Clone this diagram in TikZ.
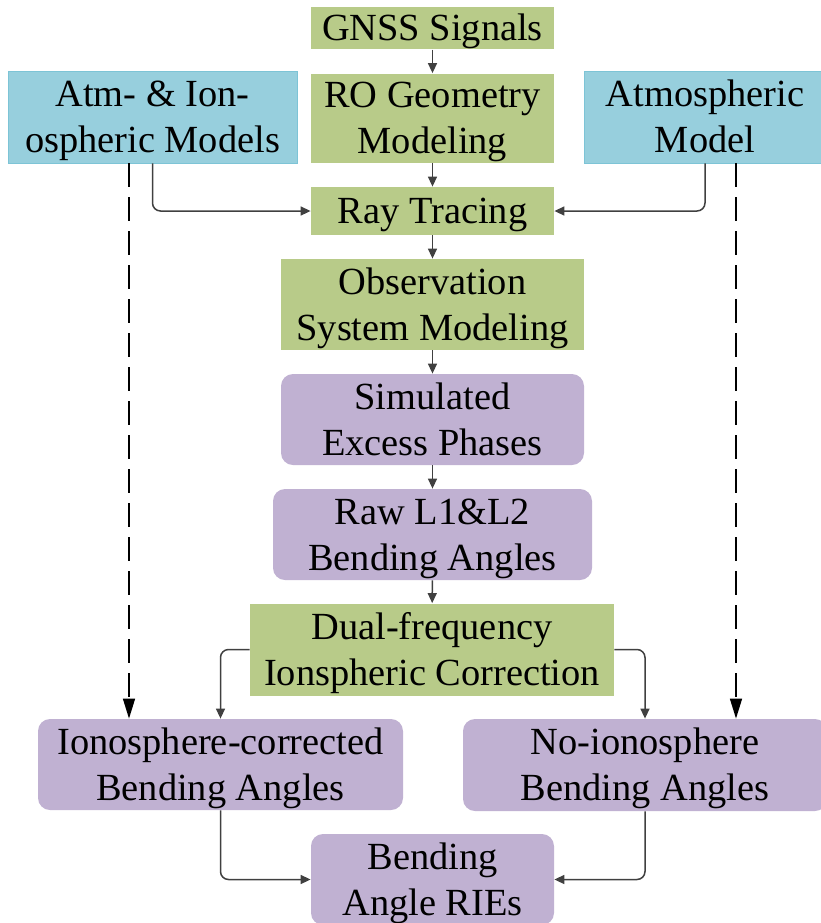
\documentclass[tikz,border=0pt]{standalone}
\usepackage{fontspec}
\setmainfont{Liberation Serif}
\usetikzlibrary{arrows.meta}
\definecolor{rogreen}{RGB}{184,203,137}
\definecolor{rocyan}{RGB}{151,207,221}
\definecolor{rocyanline}{RGB}{125,196,214}
\definecolor{ropurple}{RGB}{192,177,210}
\definecolor{roarrow}{RGB}{64,64,64}

\begin{document}
\begin{tikzpicture}[x=0.5pt, y=-0.5pt,
    box/.style={inner sep=0pt, align=center, font=\fontsize{19.2}{23}\selectfont,
        execute at end node={\rule[-0.216em]{0pt}{0pt}}},
    oneline/.style={box, execute at begin node={\rule{0pt}{0.891em}}},
    twoline/.style={box, execute at begin node={\rule{0pt}{\dimexpr0.891em+23pt\relax}}},
    greenbox/.style={fill=rogreen},
    cyanbox/.style={fill=rocyan, draw=rocyanline, line width=0.4pt},
    purplebox/.style={fill=ropurple, rounded corners=6pt},
    flow/.style={draw=roarrow, line width=0.75pt, rounded corners=4pt, -{Triangle[length=5pt,width=4.5pt]}},
    dasharrow/.style={draw=black, line width=0.75pt, dash pattern=on 12pt off 5pt, -{Triangle[length=10pt,width=6pt]}}]
    \useasboundingbox (0,0) rectangle (821,923);

    \node[oneline, greenbox, minimum width=121.5pt, minimum height=21pt] (gnss) at (432.5,28) {GNSS Signals};
    \node[twoline, greenbox, minimum width=121.5pt, minimum height=44.5pt] (geom) at (432.5,118) {RO Geometry\\Modeling};
    \node[twoline, cyanbox, minimum width=144.5pt, minimum height=46pt] (atmion) at (152.5,117) {Atm- \& Ion-\\ospheric Models};
    \node[twoline, cyanbox, minimum width=121pt, minimum height=46pt] (atmmod) at (705,117) {Atmospheric\\Model};
    \node[oneline, greenbox, minimum width=121.5pt, minimum height=24pt] (ray) at (432.5,211) {Ray Tracing};
    \node[twoline, greenbox, minimum width=151.5pt, minimum height=45.5pt] (obs) at (432.5,304.5) {Observation\\System Modeling};
    \node[twoline, purplebox, minimum width=151.5pt, minimum height=45.5pt] (sim) at (432.5,419.5) {Simulated\\Excess Phases};
    \node[twoline, purplebox, minimum width=159.5pt, minimum height=45.5pt] (raw) at (432.5,534.5) {Raw L1\&L2\\Bending Angles};
    \node[twoline, greenbox, minimum width=182pt, minimum height=46pt] (dual) at (432,649.5) {Dual-frequency\\Ionspheric Correction};
    \node[twoline, purplebox, minimum width=182.5pt, minimum height=45.5pt] (ioncorr) at (220.5,764.5) {Ionosphere-corrected\\Bending Angles};
    \node[twoline, purplebox, minimum width=182pt, minimum height=46pt] (noion) at (645,765) {No-ionosphere\\Bending Angles};
    \node[twoline, purplebox, minimum width=121.5pt, minimum height=45.5pt] (rie) at (432.5,879.5) {Bending\\Angle RIEs};

    \draw[flow] (gnss) -- (geom);
    \draw[flow] (geom) -- (ray);
    \draw[flow] (ray) -- (obs);
    \draw[flow] (obs) -- (sim);
    \draw[flow] (sim) -- (raw);
    \draw[flow] (raw) -- (dual);
    \draw[flow] (atmion.south) |- (ray.west);
    \draw[flow] (atmmod.south) |- (ray.east);
    \draw[flow] (dual.west) -| (ioncorr.north);
    \draw[flow] (dual.east) -| (noion.north);
    \draw[flow] (ioncorr.south) |- (rie.west);
    \draw[flow] (noion.south) |- (rie.east);
    \draw[dasharrow] (atmion.south) ++(-23.5,0) coordinate (ionleft) -- (ionleft |- ioncorr.north);
    \draw[dasharrow] (atmmod.south) ++(31,0) coordinate (atmright) -- (atmright |- noion.north);
\end{tikzpicture}
\end{document}
